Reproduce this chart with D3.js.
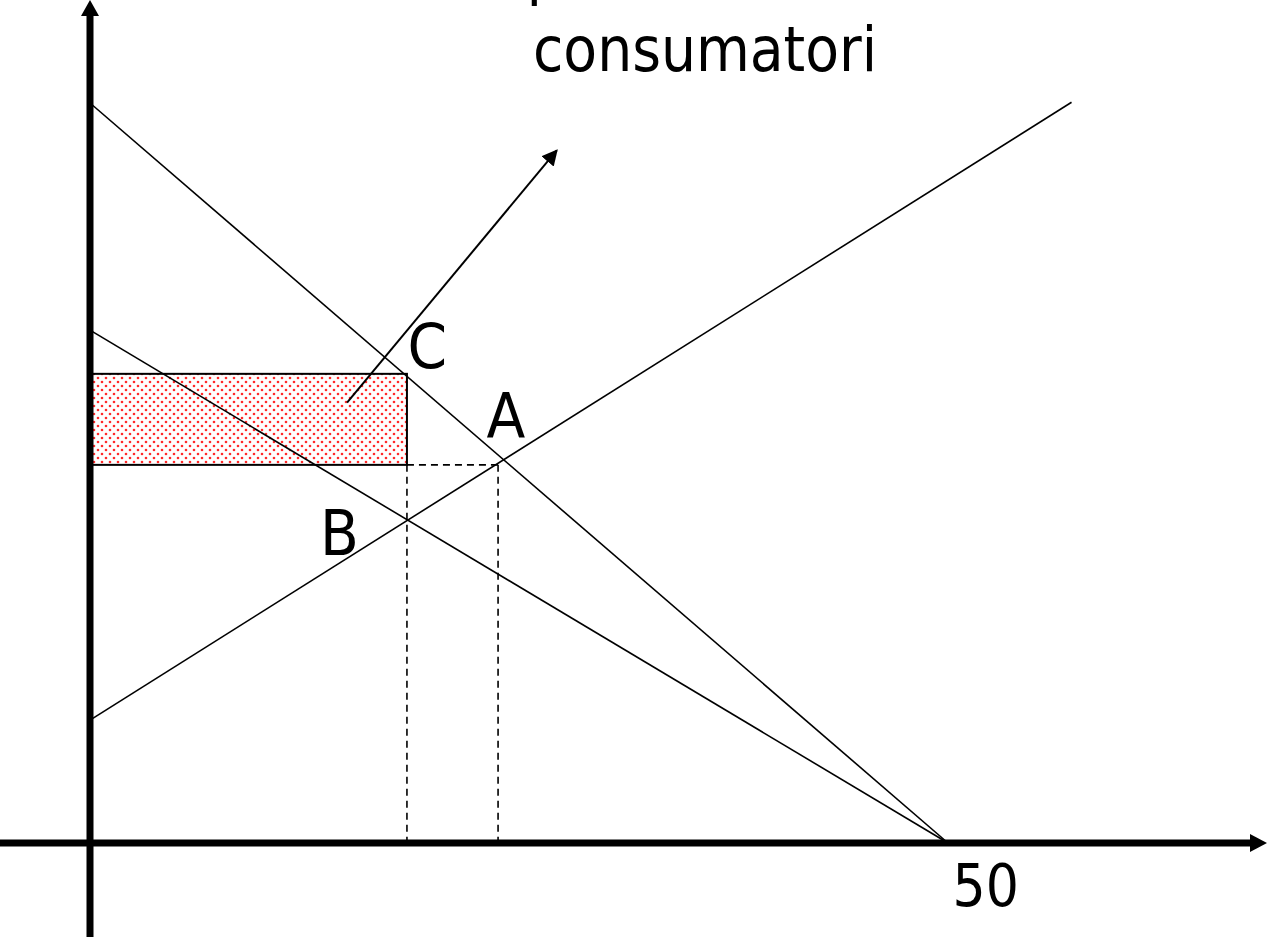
<!DOCTYPE html>
<html><head><meta charset="utf-8">
<script src="https://cdn.jsdelivr.net/npm/d3@7"></script>
<style>html,body{margin:0;padding:0;background:#fff;overflow:hidden}</style>
</head><body>
<script>
// ---- data (quantity on x, price on y) ----
const xDomain = [0, 50];
const yDomain = [0, 100];
const xTickValues = [50];
const xTickLabels = ["50"];
const demand1 = [[0, 100], [50, 0]];
const demand2 = [[0, 69.3], [50, 0]];
const supply = [[0, 16.6], [57.2, 100.1]];
const rectQ = 18.47, rectPtop = 63.4, rectPbot = 51.1;
const dashedH = [[18.47, 51.1], [23.78, 51.1]];
const dashedV1 = [[18.47, 51.1], [18.47, 0]];
const dashedV2 = [[23.78, 51.1], [23.78, 0]];
const pointer = [[14.98, 59.5], [27.2, 93.6]];
const pointLabels = [
  {t: "C", x: 18.5, y: 64.2},
  {t: "A", x: 23.1, y: 54.7},
  {t: "B", x: 13.4, y: 38.9}
];
const titleLines = ["quota trasferita ai", "consumatori"];

const W = 1267, H = 937;
const x = d3.scaleLinear().domain(xDomain).range([90, 948]);
const y = d3.scaleLinear().domain(yDomain).range([843, 103]);

const svg = d3.select("body").append("svg").attr("width", W).attr("height", H);
const defs = svg.append("defs");
const pat = defs.append("pattern").attr("id", "dots").attr("patternUnits", "userSpaceOnUse")
  .attr("width", 8).attr("height", 8);
pat.append("circle").attr("cx", 2).attr("cy", 2).attr("r", 1.3).attr("fill", "#ff2a2a");
pat.append("circle").attr("cx", 6).attr("cy", 6).attr("r", 1.3).attr("fill", "#ff2a2a");
defs.append("marker").attr("id", "ah").attr("viewBox", "0 0 10 10").attr("refX", 9).attr("refY", 5)
  .attr("markerWidth", 8).attr("markerHeight", 8).attr("orient", "auto")
  .append("path").attr("d", "M0,0L10,5L0,10z").attr("fill", "#000");

const font = "'DejaVu Sans Condensed','DejaVu Sans',sans-serif";

// rectangle
svg.append("rect").attr("x", x(0)).attr("y", y(rectPtop))
  .attr("width", x(rectQ) - x(0)).attr("height", y(rectPbot) - y(rectPtop))
  .attr("fill", "url(#dots)").attr("stroke", "#000").attr("stroke-width", 2);

const line = d3.line().x(d => x(d[0])).y(d => y(d[1]));
[dashedH, dashedV1, dashedV2].forEach(d =>
  svg.append("path").attr("d", line(d)).attr("fill", "none").attr("stroke", "#000")
    .attr("stroke-width", 1.6).attr("stroke-dasharray", "7,5"));
[demand1, demand2, supply].forEach(d =>
  svg.append("path").attr("d", line(d)).attr("fill", "none").attr("stroke", "#000").attr("stroke-width", 1.6));
svg.append("path").attr("d", line(pointer)).attr("fill", "none").attr("stroke", "#000")
  .attr("stroke-width", 2).attr("marker-end", "url(#ah)");

// axes
const xAxis = d3.axisBottom(x).tickValues(xTickValues).tickFormat((d, i) => xTickLabels[i]).tickSize(0).tickPadding(22);
const gx = svg.append("g").attr("transform", `translate(0,${y(0)})`).call(xAxis);
gx.select(".domain").remove();
gx.selectAll("text").attr("font-family", font).attr("font-size", 58).attr("fill", "#000")
  .attr("text-anchor", "start").attr("dx", 4);
svg.append("line").attr("x1", 0).attr("x2", 1252).attr("y1", y(0)).attr("y2", y(0))
  .attr("stroke", "#000").attr("stroke-width", 7);
svg.append("path").attr("d", `M1267,${y(0)}L1250,${y(0)-9}L1250,${y(0)+9}z`).attr("fill", "#000");
svg.append("line").attr("x1", x(0)).attr("x2", x(0)).attr("y1", 937).attr("y2", 14)
  .attr("stroke", "#000").attr("stroke-width", 7);
svg.append("path").attr("d", `M${x(0)},0L${x(0)-9},16L${x(0)+9},16z`).attr("fill", "#000");

// point labels
svg.selectAll("text.pl").data(pointLabels).enter().append("text").attr("class", "pl")
  .attr("x", d => x(d.x)).attr("y", d => y(d.y)).text(d => d.t)
  .attr("font-family", font).attr("font-size", 63).attr("fill", "#000");

// title (first line is cut off by the top edge, as in the reference)
svg.append("text").attr("x", 506).attr("y", -7).text(titleLines[0])
  .attr("font-family", font).attr("font-size", 63).attr("fill", "#000");
svg.append("text").attr("x", 533).attr("y", 71).text(titleLines[1])
  .attr("font-family", font).attr("font-size", 63).attr("fill", "#000")
  .attr("textLength", 344).attr("lengthAdjust", "spacingAndGlyphs");
</script>
</body></html>
